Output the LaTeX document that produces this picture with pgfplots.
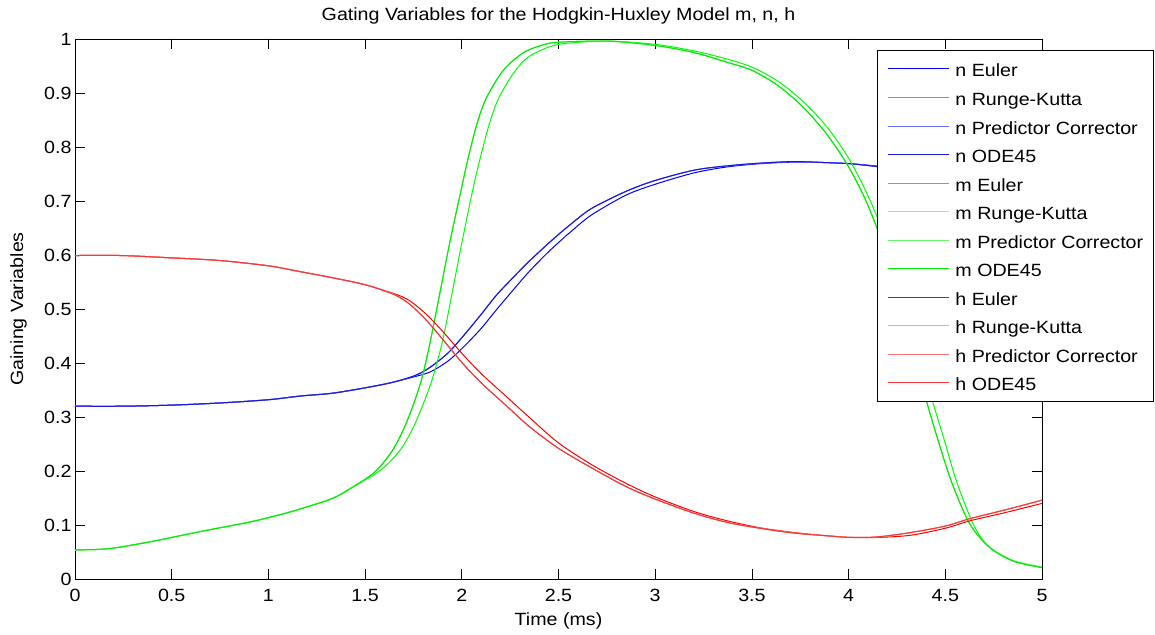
\documentclass[border=0pt]{standalone}
\usepackage{fontspec}
\setmainfont{Liberation Sans}[FakeStretch=1.11]
\usepackage{pgfplots}
\usepackage{pgfplotstable}
\pgfplotsset{compat=1.18}

\newcommand{\chartfont}{\fontsize{17.7}{21}\selectfont}

% line colours: Euler, Runge-Kutta, predictor-corrector, ode45
\definecolor{nE}{rgb}{0,0,1}
\definecolor{nR}{rgb}{0.52,0.52,1}
\definecolor{nP}{rgb}{0.42,0.42,1}
\definecolor{nO}{rgb}{0.10,0.10,0.85}
\definecolor{mE}{rgb}{0,1,0}
\definecolor{mR}{rgb}{0.50,0.98,0.50}
\definecolor{mP}{rgb}{0.42,0.94,0.42}
\definecolor{mO}{rgb}{0,0.93,0}
\definecolor{hE}{rgb}{1,0,0}
\definecolor{hR}{rgb}{1,0.62,0.62}
\definecolor{hP}{rgb}{1,0.45,0.45}
\definecolor{hO}{rgb}{0.96,0.22,0.22}

% n: potassium activation
\pgfplotstableread{
t v
0 0.320
0.25 0.320
0.5 0.322
0.75 0.326
1.0 0.332
1.17 0.339
1.33 0.344
1.5 0.354
1.64 0.364
1.76 0.375
1.84 0.384
1.93 0.404
2.01 0.430
2.10 0.464
2.18 0.499
2.27 0.537
2.35 0.570
2.44 0.603
2.5 0.623
2.56 0.642
2.67 0.674
2.85 0.711
3.0 0.731
3.2 0.752
3.37 0.763
3.54 0.769
3.72 0.772
3.89 0.771
4.01 0.769
4.14 0.765
4.3 0.759
4.5 0.748
4.75 0.731
5.0 0.710
}\nEuler
\pgfplotstableread{
t v
0 0.320
0.25 0.320
0.5 0.322
0.75 0.326
1.0 0.332
1.17 0.339
1.33 0.344
1.5 0.354
1.64 0.364
1.76 0.377
1.84 0.393
1.93 0.419
2.01 0.451
2.10 0.490
2.18 0.526
2.27 0.560
2.35 0.589
2.44 0.619
2.5 0.638
2.56 0.656
2.67 0.686
2.85 0.718
3.0 0.738
3.2 0.757
3.37 0.765
3.54 0.770
3.72 0.773
3.89 0.771
4.01 0.769
4.14 0.764
4.3 0.757
4.5 0.745
4.75 0.727
5.0 0.705
}\nRK

% m: sodium activation
\pgfplotstableread{
t v
0 0.054
0.17 0.056
0.39 0.069
0.65 0.088
0.91 0.106
1.08 0.121
1.167 0.130
1.33 0.149
1.43 0.169
1.55 0.194
1.62 0.214
1.69 0.243
1.76 0.289
1.84 0.362
1.90 0.440
1.95 0.530
2.0 0.622
2.055 0.718
2.09 0.772
2.14 0.840
2.19 0.890
2.27 0.938
2.35 0.968
2.5 0.990
2.76 0.996
3.0 0.990
3.2 0.978
3.37 0.963
3.5 0.948
3.63 0.923
3.75 0.889
3.86 0.849
3.94 0.812
4.01 0.773
4.08 0.725
4.14 0.677
4.2 0.618
4.3 0.495
4.435 0.328
4.495 0.257
4.556 0.183
4.635 0.109
4.69 0.074
4.756 0.052
4.86 0.033
5.0 0.022
}\mEuler
\pgfplotstableread{
t v
0 0.054
0.17 0.056
0.39 0.069
0.65 0.088
0.91 0.106
1.08 0.121
1.167 0.130
1.33 0.149
1.43 0.169
1.55 0.198
1.645 0.240
1.72 0.295
1.79 0.367
1.84 0.445
1.89 0.536
1.94 0.627
1.995 0.718
2.03 0.775
2.08 0.845
2.13 0.893
2.217 0.943
2.32 0.975
2.42 0.989
2.5 0.994
2.76 0.996
3.0 0.988
3.2 0.975
3.37 0.957
3.5 0.942
3.63 0.915
3.75 0.879
3.86 0.836
3.94 0.797
4.01 0.757
4.08 0.708
4.14 0.656
4.2 0.590
4.3 0.466
4.4 0.333
4.46 0.260
4.53 0.182
4.617 0.108
4.69 0.072
4.756 0.051
4.86 0.032
5.0 0.021
}\mRK

% h: sodium inactivation
\pgfplotstableread{
t v
0 0.599
0.24 0.599
0.48 0.595
0.74 0.590
1.0 0.580
1.167 0.569
1.33 0.558
1.5 0.545
1.636 0.530
1.69 0.523
1.74 0.513
1.82 0.489
1.91 0.455
2.01 0.414
2.11 0.377
2.23 0.338
2.35 0.299
2.5 0.252
2.675 0.211
2.85 0.177
3.0 0.152
3.2 0.125
3.37 0.108
3.54 0.095
3.72 0.086
3.89 0.080
4.01 0.077
4.15 0.077
4.32 0.081
4.5 0.094
4.63 0.108
4.81 0.123
5.0 0.140
}\hEuler
\pgfplotstableread{
t v
0 0.599
0.24 0.599
0.48 0.595
0.74 0.590
1.0 0.580
1.167 0.569
1.33 0.558
1.5 0.545
1.636 0.529
1.69 0.519
1.74 0.506
1.82 0.478
1.91 0.440
2.01 0.397
2.11 0.360
2.23 0.321
2.35 0.282
2.5 0.242
2.675 0.205
2.85 0.171
3.0 0.148
3.2 0.122
3.37 0.105
3.54 0.094
3.72 0.085
3.89 0.080
4.01 0.077
4.15 0.078
4.32 0.086
4.5 0.098
4.63 0.112
4.81 0.128
5.0 0.146
}\hRK

\begin{document}
\begin{tikzpicture}
\useasboundingbox (-75pt,-55pt) rectangle (1080pt,579pt);
\begin{axis}[
  scale only axis,
  width=967pt, height=540pt,
  xmin=0, xmax=5, ymin=0, ymax=1,
  xtick={0,0.5,1,1.5,2,2.5,3,3.5,4,4.5,5},
  ytick={0,0.1,0.2,0.3,0.4,0.5,0.6,0.7,0.8,0.9,1},
  tick align=inside,
  major tick length=10pt,
  tick style={black, line width=0.7pt},
  axis line style={black, line width=0.9pt},
  clip=true,
  /pgf/number format/assume math mode=true,
  ticklabel style={font=\chartfont},
  xticklabel style={yshift=-7pt},
  title={Gating Variables for the Hodgkin-Huxley Model m, n, h},
  title style={font=\chartfont, at={(axis description cs:0.5,1)}, anchor=base, yshift=12pt},
  xlabel={Time (ms)},
  xlabel style={font=\chartfont, at={(axis description cs:0.5,0)}, anchor=base, yshift=-46pt},
  ylabel={Gaining Variables},
  ylabel style={font=\chartfont, at={(axis description cs:-0.0583,0.5)}, anchor=center},
  every axis plot/.append style={line width=1pt, smooth, tension=0.5},
  legend cell align=left,
  legend image code/.code={\draw[#1, line width=1pt] (0pt,0pt) -- (61pt,0pt);},
  legend style={
    font=\chartfont,
    at={(rel axis cs:0.8294,0.9796)}, anchor=north west,
    draw=black, line width=0.8pt, fill=white,
    inner xsep=10pt, inner ysep=8pt,
    row sep=7.55pt, column sep=6pt,
    nodes={inner sep=0pt, text height=18.5pt, text depth=2.5pt},
  },
]
\addplot[nE] table[x=t,y=v] {\nEuler};
\addlegendentry{n Euler}
\addplot[nR] table[x=t,y=v] {\nRK};
\addlegendentry{n Runge-Kutta}
\addplot[nP] table[x=t,y=v] {\nRK};
\addlegendentry{n Predictor Corrector}
\addplot[nO] table[x=t,y=v] {\nRK};
\addlegendentry{n ODE45}
\addplot[mE] table[x=t,y=v] {\mEuler};
\addlegendentry{m Euler}
\addplot[mR] table[x=t,y=v] {\mRK};
\addlegendentry{m Runge-Kutta}
\addplot[mP] table[x=t,y=v] {\mRK};
\addlegendentry{m Predictor Corrector}
\addplot[mO] table[x=t,y=v] {\mRK};
\addlegendentry{m ODE45}
\addplot[hE] table[x=t,y=v] {\hEuler};
\addlegendentry{h Euler}
\addplot[hR] table[x=t,y=v] {\hRK};
\addlegendentry{h Runge-Kutta}
\addplot[hP] table[x=t,y=v] {\hRK};
\addlegendentry{h Predictor Corrector}
\addplot[hO] table[x=t,y=v] {\hRK};
\addlegendentry{h ODE45}
\end{axis}
\end{tikzpicture}
\end{document}
